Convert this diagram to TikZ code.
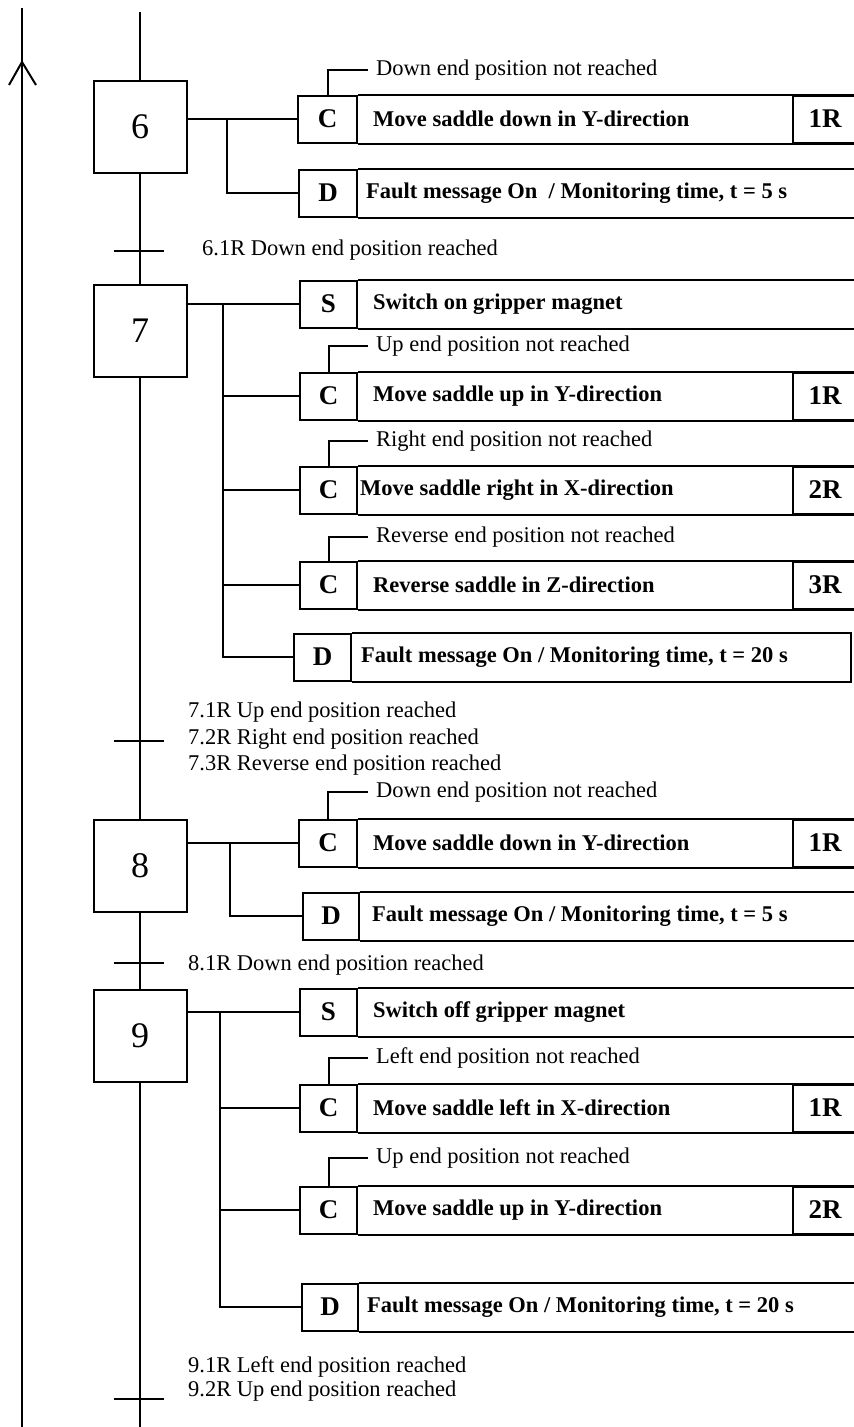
\documentclass[tikz,border=0pt]{standalone}
\usepackage{fontspec}
\setmainfont{Liberation Serif}
\newcommand{\fsreg}{\fontsize{22.5}{24}\selectfont}
\newcommand{\fsqual}{\fontsize{27}{29}\selectfont\bfseries}
\newcommand{\fsnum}{\fontsize{36}{38}\selectfont}
\tikzset{
  ln/.style={line width=2pt},
  stepbox/.style={draw, line width=2pt, minimum width=93pt, minimum height=92pt, inner sep=0pt, font=\fsnum},
  qual/.style={draw, line width=2pt, anchor=west, minimum height=47pt, inner sep=0pt, font=\fsqual},
  acttxt/.style={anchor=west, inner sep=0pt, font=\fsreg\bfseries},
  rcell/.style={draw, line width=2pt, anchor=west, minimum width=64pt, minimum height=47pt, inner sep=0pt, font=\fsqual},
  ann/.style={anchor=west, inner sep=0pt, font=\fsreg},
}
\newcommand{\actrow}[7]{%
  \node[qual, minimum width={#3-#2}] (#1) at (#2,#4) {#5};
  \draw[ln] (#1.north east) -- (#1.north east -| rb);
  \draw[ln] (#1.south east) -- (#1.south east -| rb);
  \node[acttxt] (#1t) at (#6,#4) {#7};
}
\newcommand{\annot}[4]{%
  \node[ann] (#1) at (376,#3) {#4};
  \draw[ln] (#2.north) |- ([xshift=-8pt]#1.west);
}
\begin{document}
\begin{tikzpicture}[x=1pt,y=-1pt]
\useasboundingbox (0,0) rectangle (854,1427);
\coordinate (rb) at (857,0);
% left return line with arrow
\coordinate (lt) at (22,8);
\coordinate (lb) at (22,1427);
\coordinate (ah) at (22,62);
\draw[ln] (lt) -- (lb);
\draw[ln] ([shift={(-13,23)}]ah) -- (ah) -- ([shift={(14,23)}]ah);
% steps
\coordinate (top) at (140,12);
\coordinate (bot) at (140,1427);
\node[stepbox] (s6) at (140,127) {6};
\node[stepbox] (s7) at (140,331) {7};
\node[stepbox] (s8) at (140,866) {8};
\node[stepbox] (s9) at (140,1036) {9};
\draw[ln] (top) -- (s6.north);
\draw[ln] (s6.south) -- (s7.north);
\draw[ln] (s7.south) -- (s8.north);
\draw[ln] (s8.south) -- (s9.north);
\draw[ln] (s9.south) -- (bot);
% transitions
\coordinate (t6) at (140,251);
\coordinate (t7) at (140,741);
\coordinate (t8) at (140,963);
\coordinate (t9) at (140,1399);
\foreach \t in {t6,t7,t8,t9}{\draw[ln] ([xshift=-26pt]\t) -- ([xshift=24pt]\t);}
\node[ann] (l61) at (202,250) {6.1R Down end position reached};
\node[ann] (l71) at (188,712) {7.1R Up end position reached};
\node[ann] (l72) at (188,739) {7.2R Right end position reached};
\node[ann] (l73) at (188,765) {7.3R Reverse end position reached};
\node[ann] (l81) at (188,965) {8.1R Down end position reached};
\node[ann] (l91) at (188,1367) {9.1R Left end position reached};
\node[ann] (l92) at (188,1391) {9.2R Up end position reached};
% ---- step 6 actions
\actrow{c6}{297}{356}{119}{C}{373}{Move saddle down in Y-direction}
\node[rcell] (r6) at (792,119) {1R};
\annot{n6}{c6}{70}{Down end position not reached}
\actrow{d6}{298}{356}{193}{D}{366}{Fault message On\ \ / Monitoring time, t = 5 s}
\coordinate (b6) at (227,0);
\draw[ln] (s6.east |- c6.west) -- (c6.west);
\draw[ln] (b6 |- c6.west) |- (d6.west);
% ---- step 7 actions
\actrow{s7a}{299}{356}{304}{S}{373}{Switch on gripper magnet}
\actrow{c7a}{299}{356}{396}{C}{373}{Move saddle up in Y-direction}
\node[rcell] (r7a) at (792,396) {1R};
\annot{n7a}{c7a}{346}{Up end position not reached}
\actrow{c7b}{299}{356}{490}{C}{360}{Move saddle right in X-direction}
\node[rcell] (r7b) at (792,490) {2R};
\annot{n7b}{c7b}{441}{Right end position not reached}
\actrow{c7c}{299}{356}{585}{C}{373}{Reverse saddle in Z-direction}
\node[rcell] (r7c) at (792,585) {3R};
\annot{n7c}{c7c}{537}{Reverse end position not reached}
\node[qual, minimum width=57pt] (d7) at (293,657) {D};
\coordinate (re7) at (851,0);
\draw[ln] (d7.north east) -- (d7.north east -| re7) -- (d7.south east -| re7) -- (d7.south east);
\node[acttxt] (d7t) at (361,657) {Fault message On / Monitoring time, t = 20 s};
\coordinate (b7) at (223,0);
\draw[ln] (s7.east |- s7a.west) -- (s7a.west);
\draw[ln] (b7 |- s7a.west) |- (d7.west);
\draw[ln] (b7 |- c7a.west) -- (c7a.west);
\draw[ln] (b7 |- c7b.west) -- (c7b.west);
\draw[ln] (b7 |- c7c.west) -- (c7c.west);
% ---- step 8 actions
\actrow{c8}{298}{356}{843}{C}{373}{Move saddle down in Y-direction}
\node[rcell] (r8) at (792,843) {1R};
\annot{n8}{c8}{792}{Down end position not reached}
\actrow{d8}{302}{358}{916}{D}{372}{Fault message On / Monitoring time, t = 5 s}
\coordinate (b8) at (230,0);
\draw[ln] (s8.east |- c8.west) -- (c8.west);
\draw[ln] (b8 |- c8.west) |- (d8.west);
% ---- step 9 actions
\actrow{s9a}{299}{356}{1012}{S}{373}{Switch off gripper magnet}
\actrow{c9a}{299}{356}{1108}{C}{373}{Move saddle left in X-direction}
\node[rcell] (r9a) at (792,1108) {1R};
\annot{n9a}{c9a}{1058}{Left end position not reached}
\actrow{c9b}{299}{356}{1210}{C}{373}{Move saddle up in Y-direction}
\node[rcell] (r9b) at (792,1210) {2R};
\annot{n9b}{c9b}{1158}{Up end position not reached}
\actrow{d9}{301}{357}{1307}{D}{367}{Fault message On / Monitoring time, t = 20 s}
\coordinate (b9) at (220,0);
\draw[ln] (s9.east |- s9a.west) -- (s9a.west);
\draw[ln] (b9 |- s9a.west) |- (d9.west);
\draw[ln] (b9 |- c9a.west) -- (c9a.west);
\draw[ln] (b9 |- c9b.west) -- (c9b.west);
\end{tikzpicture}
\end{document}
